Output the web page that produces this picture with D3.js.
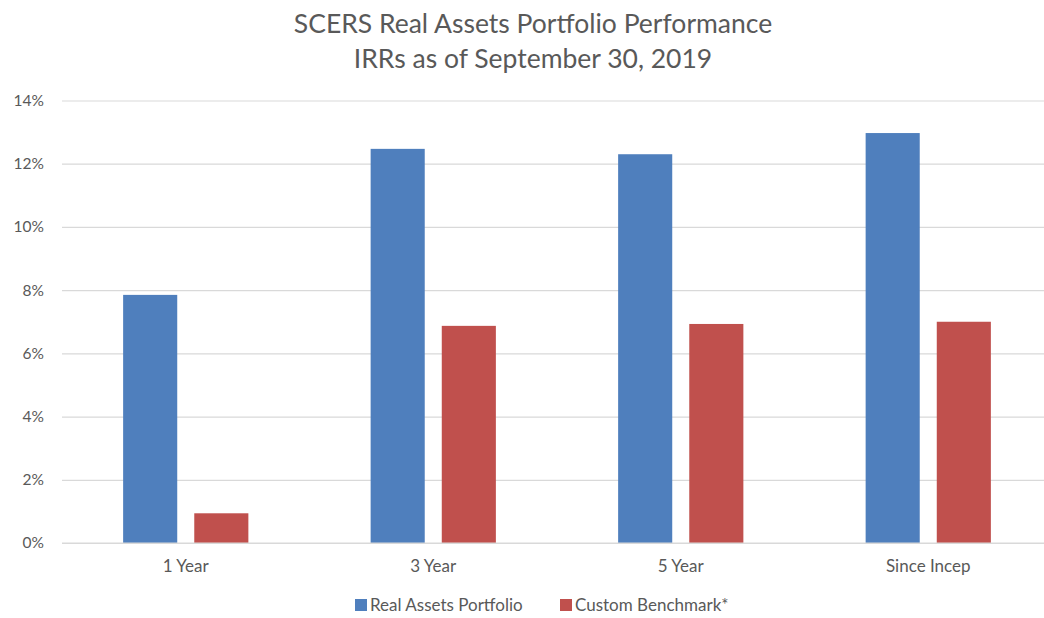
<!DOCTYPE html>
<html>
<head>
<meta charset="utf-8">
<script src="https://cdn.jsdelivr.net/npm/d3@7"></script>
<style>
  html, body { margin: 0; padding: 0; background: #fff; }
  svg { display: block; }
  text { font-family: Lato, "Open Sans", sans-serif; fill: #595959; }
</style>
</head>
<body>
<svg id="chart" width="1044" height="618"></svg>
<script>
const categories = ["1 Year", "3 Year", "5 Year", "Since Incep"];
const seriesNames = ["Real Assets Portfolio", "Custom Benchmark*"];
const portfolioValues = [7.85, 12.47, 12.3, 12.97];
const benchmarkValues = [0.94, 6.87, 6.93, 7.0];
const yTicks = [0, 2, 4, 6, 8, 10, 12, 14];
const titleLines = ["SCERS Real Assets Portfolio Performance", "IRRs as of September 30, 2019"];
const colors = ["#4F7FBD", "#C0504D"];

const svg = d3.select("#chart");
const plotLeft = 62, plotRight = 1052, plotTop = 100.5, plotBottom = 543;

const x0 = d3.scaleBand().domain(categories).range([plotLeft, plotRight])
  .paddingInner(0.494).paddingOuter(0.247);
const x1 = d3.scaleBand().domain(seriesNames).range([0, x0.bandwidth()])
  .paddingInner(0.2394).paddingOuter(0);
const y = d3.scaleLinear().domain([0, 14]).range([plotBottom, plotTop]);

// gridlines
const yAxis = d3.axisLeft(y).tickValues(yTicks).tickFormat(d => d + "%")
  .tickSize(-(plotRight - plotLeft)).tickPadding(18);
const gy = svg.append("g").attr("transform", `translate(${plotLeft},0)`).call(yAxis);
gy.select(".domain").remove();
gy.selectAll(".tick line").attr("stroke", "#D9D9D9").attr("stroke-width", 1.2);
gy.selectAll(".tick text").attr("font-size", 15.5).attr("fill", "#595959")
  .attr("font-family", "Lato, 'Open Sans', sans-serif");

// bars
const data = categories.map((c, i) => ({ cat: c, vals: [portfolioValues[i], benchmarkValues[i]] }));
const groups = svg.append("g").selectAll("g").data(data).join("g")
  .attr("transform", d => `translate(${x0(d.cat)},0)`);
groups.selectAll("rect").data(d => d.vals.map((v, j) => ({ s: seriesNames[j], v, j })))
  .join("rect")
  .attr("x", d => x1(d.s))
  .attr("width", x1.bandwidth())
  .attr("y", d => y(d.v))
  .attr("height", d => y(0) - y(d.v))
  .attr("fill", d => colors[d.j]);

// baseline
svg.append("line").attr("x1", plotLeft).attr("x2", plotRight).attr("y1", y(0)).attr("y2", y(0))
  .attr("stroke", "#D9D9D9").attr("stroke-width", 1.2);

// x axis labels
const xAxis = d3.axisBottom(x0).tickSize(0).tickPadding(17);
const gx = svg.append("g").attr("transform", `translate(0,${plotBottom})`).call(xAxis);
gx.select(".domain").remove();
gx.selectAll(".tick text").attr("font-size", 17).attr("fill", "#595959")
  .attr("font-family", "Lato, 'Open Sans', sans-serif");

// title
svg.append("text").attr("x", 533).attr("text-anchor", "middle")
  .attr("font-size", 26.5)
  .selectAll("tspan").data(titleLines).join("tspan")
  .attr("x", 533).attr("y", (d, i) => 33 + i * 34.5).text(d => d);

// legend
const legendItems = [{ name: seriesNames[0], x: 355 }, { name: seriesNames[1], x: 560 }];
const lg = svg.append("g");
legendItems.forEach((it, i) => {
  lg.append("rect").attr("x", it.x).attr("y", 599).attr("width", 12).attr("height", 12).attr("fill", colors[i]);
  lg.append("text").attr("x", it.x + 15).attr("y", 611).attr("font-size", 17).text(it.name);
});
</script>
</body>
</html>
